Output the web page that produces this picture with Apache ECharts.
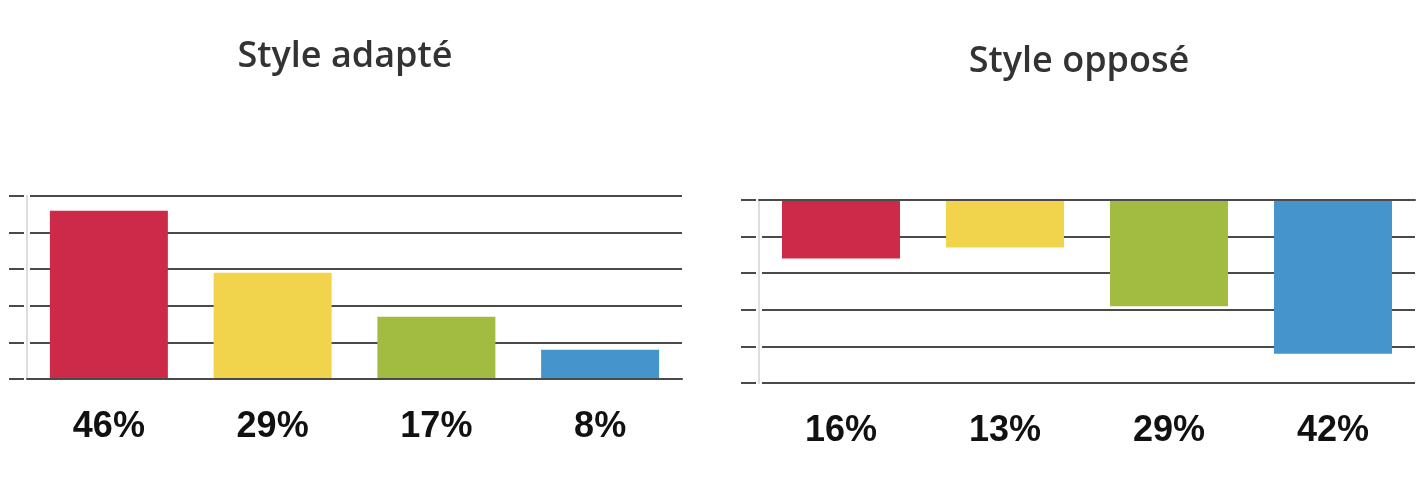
<!DOCTYPE html>
<html><head><meta charset="utf-8">
<script src="https://cdn.jsdelivr.net/npm/echarts@6/dist/echarts.min.js"></script>
<style>html,body{margin:0;padding:0;background:#fff}#c{width:1426px;height:500px}</style>
</head><body><div id="c"></div>
<script>
const leftTitle = 'Style adapté';
const rightTitle = 'Style opposé';
const leftLabels = ['46%', '29%', '17%', '8%'];
const leftValues = [46, 29, 17, 8];
const rightLabels = ['16%', '13%', '29%', '42%'];
const rightValues = [16, 13, 29, 42];
const colors = ['#CC2A48', '#F1D44B', '#A2BC42', '#4594CC'];
const yTicks = { min: 0, max: 50, interval: 10 };

const chart = echarts.init(document.getElementById('c'));
const dark = '#4a4a4a';

function yAxes(gi, inverse) {
  const base = { gridIndex: gi, type: 'value', position: 'left', offset: 0,
    min: yTicks.min, max: yTicks.max, interval: yTicks.interval, inverse: inverse,
    axisLabel: { show: false } };
  return [
    Object.assign({}, base, { axisLine: { show: false },
      axisTick: { show: true, length: 18, lineStyle: { color: dark, width: 2 } },
      splitLine: { show: true, lineStyle: { color: dark, width: 2 } }, z: 0 }),
    Object.assign({}, base, { axisLine: { show: true, onZero: false, lineStyle: { color: '#fff', width: 6 } },
      axisTick: { show: false }, splitLine: { show: false }, z: 1 }),
    Object.assign({}, base, { axisLine: { show: true, onZero: false, lineStyle: { color: '#dedede', width: 2 } },
      axisTick: { show: false }, splitLine: { show: false }, z: 2 })
  ];
}

function xAxis(gi, labels) {
  return { gridIndex: gi, type: 'category', data: labels, position: 'bottom',
    axisLine: { show: true, onZero: false, lineStyle: { color: dark, width: 2 } },
    axisTick: { show: false },
    axisLabel: { margin: 30, fontFamily: 'Liberation Sans', fontWeight: 'bold', fontSize: 36, color: '#111' },
    z: 5 };
}

const titleStyle = { fontFamily: 'Open Sans', fontWeight: 600, fontSize: 36, color: '#333', lineHeight: 44 };

chart.setOption({
  animation: false,
  title: [
    { text: leftTitle, left: 345, top: 35, textAlign: 'center', padding: 0, textStyle: titleStyle },
    { text: rightTitle, left: 1079, top: 40, textAlign: 'center', padding: 0, textStyle: titleStyle }
  ],
  grid: [
    { left: 27, right: 744, top: 196, bottom: 121 },
    { left: 759, right: 11, top: 200, bottom: 117 }
  ],
  xAxis: [
    xAxis(0, leftLabels),
    Object.assign(xAxis(1, rightLabels), { position: 'top', axisLabel: { show: false } }),
    Object.assign(xAxis(1, rightLabels), { position: 'bottom', axisLine: { show: false } })
  ],
  yAxis: yAxes(0, false).concat(yAxes(1, true)),
  series: [
    { type: 'bar', xAxisIndex: 0, yAxisIndex: 0, barWidth: 118,
      data: leftValues.map((v, i) => ({ value: v, itemStyle: { color: colors[i] } })) },
    { type: 'bar', xAxisIndex: 1, yAxisIndex: 3, barWidth: 118,
      data: rightValues.map((v, i) => ({ value: v, itemStyle: { color: colors[i] } })) }
  ]
});
</script></body></html>
